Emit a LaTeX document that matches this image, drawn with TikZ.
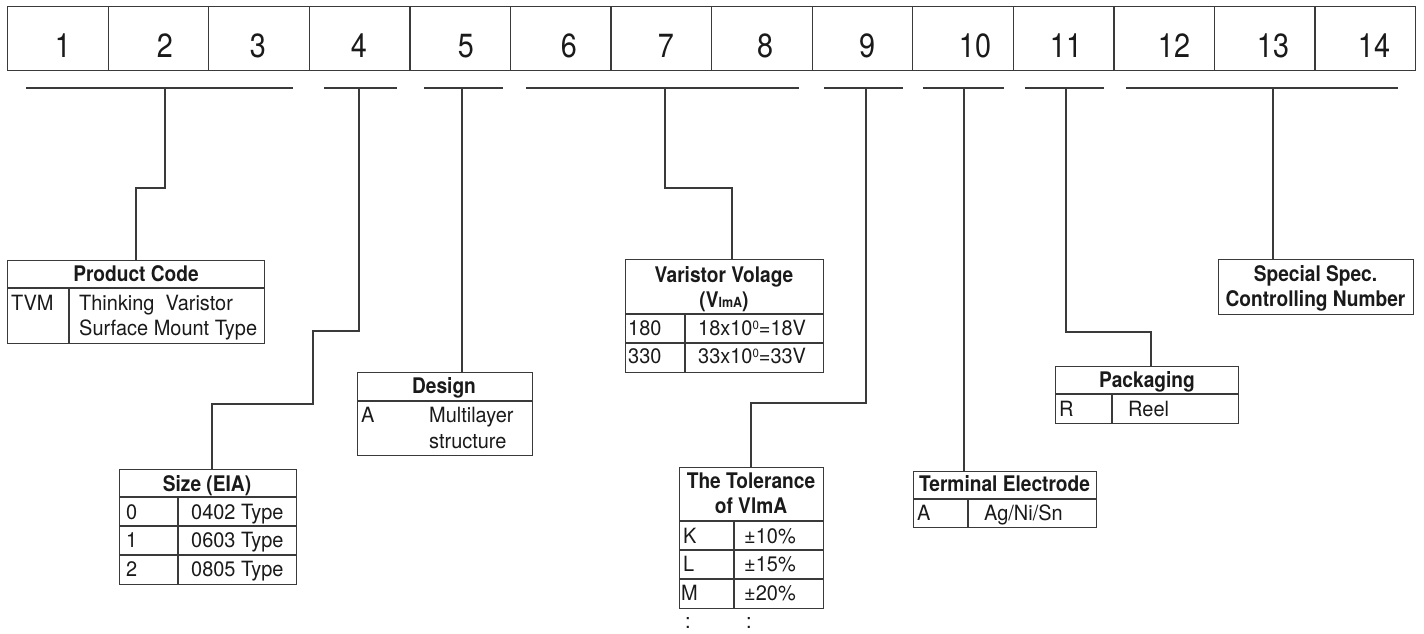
\documentclass[tikz,border=0pt]{standalone}
\usepackage{fontspec}
\setmainfont{TeX Gyre Heros}
\newfontfamily\hdfam[FakeStretch=0.89]{TeX Gyre Heros}
\newfontfamily\txfam[FakeStretch=0.95]{TeX Gyre Heros}
\newfontfamily\numfam[FakeStretch=0.86]{TeX Gyre Heros}
\definecolor{lc}{HTML}{3A3A3A}
\definecolor{tc}{HTML}{1A1A1A}
\newcommand\hdfont{\hdfam\fontsize{21.5}{25}\selectfont\bfseries}
\newcommand\txfont{\txfam\fontsize{21}{26}\selectfont}
\newcommand\numfont{\numfam\fontsize{33.5}{36}\selectfont}
\newcommand\supz{\raisebox{6pt}{\fontsize{12}{12}\selectfont 0}}
\tikzset{
  ln/.style={draw=lc, line width=1.3pt},
  frame/.style={draw=lc, line width=1.3pt, inner sep=0pt, anchor=north west},
  hd/.style={font=\hdfont, text=tc, inner sep=0pt, anchor=base},
  tx/.style={font=\txfont, text=tc, inner sep=0pt, anchor=base west},
  num/.style={font=\numfont, text=tc, inner sep=0pt, anchor=base},
}
\begin{document}
\begin{tikzpicture}[x=1pt,y=-1pt]
\useasboundingbox (0,0) rectangle (1424,633);
% top row of cells
\foreach \i in {0,...,13}
  \node[frame, minimum width=100.57pt, minimum height=64pt] (c\i) at (7+\i*100.57,6) {};
\foreach \n/\x in {1/63,2/165,3/258,4/359,5/466,6/569,7/666,8/765,9/867,10/975,11/1066,12/1174,13/1273,14/1374}
  \node[num] (n\n) at (\x,57) {\n};
% bracket lines
\draw[ln] (26,88) -- (293,88);
\draw[ln] (324,88) -- (397,88);
\draw[ln] (424,88) -- (503,88);
\draw[ln] (526,88) -- (799,88);
\draw[ln] (824,88) -- (903,88);
\draw[ln] (923,88) -- (1004,88);
\draw[ln] (1025,88) -- (1104,88);
\draw[ln] (1126,88) -- (1398,88);
\coordinate (s1) at (165,88);
\coordinate (s2) at (359,88);
\coordinate (s3) at (462,88);
\coordinate (s4) at (665,88);
\coordinate (s5) at (866,88);
\coordinate (s6) at (964,88);
\coordinate (s7) at (1066,88);
\coordinate (s8) at (1273,88);

% Product Code
\node[frame, minimum width=257pt, minimum height=83pt] (pc) at (7,260) {};
\draw[ln] (7,288) -- (264,288);
\draw[ln] (69,288) -- (69,343);
\node[hd] (pch) at (136,281) {Product Code};
\node[tx] (pck) at (11,310) {TVM};
\node[tx] (pcv1) at (79,310) {Thinking\ \ Varistor};
\node[tx] (pcv2) at (79,335) {Surface Mount Type};
\coordinate (pcin) at ([xshift=129pt]pc.north west);

% Size
\node[frame, minimum width=177pt, minimum height=115pt] (sz) at (119,469) {};
\draw[ln] (119,497) -- (296,497);
\draw[ln] (119,526) -- (296,526);
\draw[ln] (119,555) -- (296,555);
\draw[ln] (178,497) -- (178,584);
\node[hd] (szh) at (207,491) {Size (EIA)};
\node[tx] (sz0) at (126,519) {0};
\node[tx] (sz0v) at (191,519) {0402 Type};
\node[tx] (sz1) at (126,547) {1};
\node[tx] (sz1v) at (191,547) {0603 Type};
\node[tx] (sz2) at (126,576) {2};
\node[tx] (sz2v) at (191,576) {0805 Type};
\coordinate (szin) at ([xshift=93pt]sz.north west);

% Design
\node[frame, minimum width=175pt, minimum height=83pt] (ds) at (357,372) {};
\draw[ln] (357,401) -- (532,401);
\node[hd] (dsh) at (444,393) {Design};
\node[tx] (dsk) at (361,422) {A};
\node[tx] (dsv1) at (429,422) {Multilayer};
\node[tx] (dsv2) at (429,448) {structure};
\coordinate (dsin) at ([xshift=105pt]ds.north west);

% Varistor Voltage
\node[frame, minimum width=198pt, minimum height=113pt] (vr) at (625,259) {};
\draw[ln] (625,314) -- (823,314);
\draw[ln] (625,343) -- (823,343);
\draw[ln] (685,314) -- (685,372);
\node[hd] (vrh1) at (724,282) {Varistor Volage};
\node[hd] (vrh2) at (724,307) {(V{\fontsize{14}{15}\selectfont lmA})};
\node[tx] (vr1) at (628,335) {180};
\node[tx] (vr1v) at (698,335) {18x10\supz=18V};
\node[tx] (vr2) at (628,363) {330};
\node[tx] (vr2v) at (698,363) {33x10\supz=33V};
\coordinate (vrin) at ([xshift=107pt]vr.north west);

% Tolerance
\node[frame, minimum width=144pt, minimum height=141pt] (tl) at (679,467) {};
\draw[ln] (679,521) -- (823,521);
\draw[ln] (679,550) -- (823,550);
\draw[ln] (679,579) -- (823,579);
\draw[ln] (734,521) -- (734,608);
\node[hd] (tlh1) at (751,488) {The Tolerance};
\node[hd] (tlh2) at (751,513) {of VlmA};
\node[tx] (tlk) at (683,543) {K};
\node[tx] (tlkv) at (744,543) {±10\%};
\node[tx] (tll) at (683,571) {L};
\node[tx] (tllv) at (744,571) {±15\%};
\node[tx] (tlm) at (681,600) {M};
\node[tx] (tlmv) at (744,600) {±20\%};
\node[tx] (tld1) at (685,628) {:};
\node[tx] (tld2) at (746,628) {:};
\coordinate (tlin) at ([xshift=72pt]tl.north west);

% Terminal Electrode
\node[frame, minimum width=183pt, minimum height=56pt] (te) at (913,471) {};
\draw[ln] (913,499) -- (1096,499);
\draw[ln] (968,499) -- (968,527);
\node[hd] (teh) at (1004.5,491) {Terminal Electrode};
\node[tx] (tek) at (917,520) {A};
\node[tx] (tev) at (984,520) {Ag/Ni/Sn};
\coordinate (tein) at ([xshift=51pt]te.north west);

% Packaging
\node[frame, minimum width=183pt, minimum height=57pt] (pk) at (1055,366) {};
\draw[ln] (1055,394) -- (1238,394);
\draw[ln] (1112,394) -- (1112,423);
\node[hd] (pkh) at (1147,387) {Packaging};
\node[tx] (pkk) at (1059,416) {R};
\node[tx] (pkv) at (1128,416) {Reel};
\coordinate (pkin) at ([xshift=96pt]pk.north west);

% Special Spec
\node[frame, minimum width=195pt, minimum height=55pt] (sp) at (1218,259) {};
\node[hd] (sph1) at (1315.5,281) {Special Spec.};
\node[hd] (sph2) at (1315.5,306) {Controlling Number};
\coordinate (spin) at ([xshift=55pt]sp.north west);

% connectors
\draw[ln] (s1) -- ++(0,100) -| (pcin);
\draw[ln] (s2) -- ++(0,243) -- ++(-46,0) -- ++(0,73) -| (szin);
\draw[ln] (s3) -- (dsin);
\draw[ln] (s4) -- ++(0,100) -| (vrin);
\draw[ln] (s5) -- ++(0,315) -| (tlin);
\draw[ln] (s6) -- (tein);
\draw[ln] (s7) -- ++(0,244) -| (pkin);
\draw[ln] (s8) -- (spin);
\end{tikzpicture}
\end{document}
